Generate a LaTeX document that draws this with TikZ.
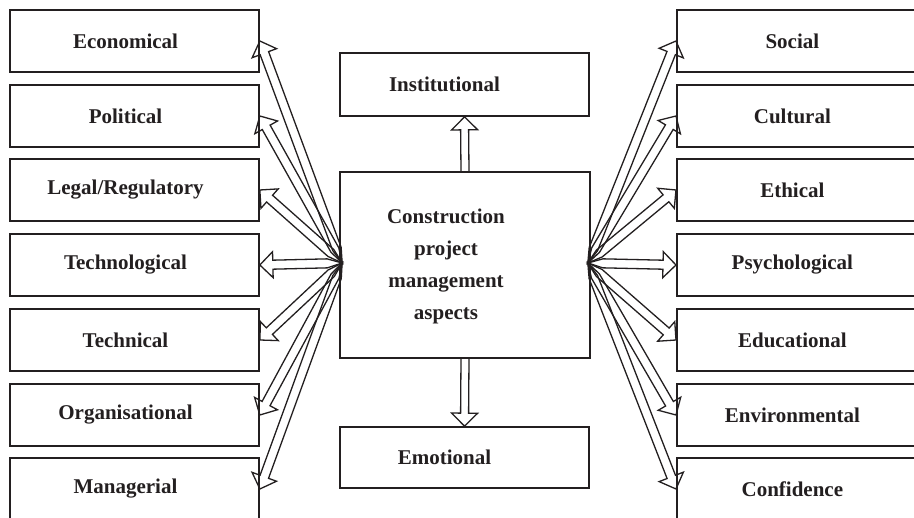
\documentclass[tikz,border=0pt]{standalone}
\usepackage{fontspec}
\setmainfont{Liberation Serif}
\usetikzlibrary{calc}
\definecolor{ink}{HTML}{231F20}
% hollow arrow with a pointed tail: #1 tail point, #2 tip
\newcommand\hollowarrow[2]{%
  \coordinate (ha1) at ($(#1)!15pt!(#2)$);
  \coordinate (ha2) at ($(#2)!13pt!(#1)$);
  \draw[arrowline] (#1) -- ($(ha1)!4.5pt!90:(#2)$) -- ($(ha2)!4.5pt!-90:(#1)$)
    -- ($(ha2)!13pt!-90:(#1)$) -- (#2) -- ($(ha2)!13pt!90:(#1)$)
    -- ($(ha2)!4.5pt!90:(#1)$) -- ($(ha1)!4.5pt!-90:(#2)$) -- cycle;
}
% hollow arrow with an open tail on a box edge
\newcommand\openarrow[2]{%
  \coordinate (ha2) at ($(#2)!13pt!(#1)$);
  \draw[arrowline] ($(#1)!4pt!-90:(#2)$) -- ($(ha2)!4pt!90:(#1)$)
    -- ($(ha2)!13pt!90:(#1)$) -- (#2) -- ($(ha2)!13pt!-90:(#1)$)
    -- ($(ha2)!4pt!-90:(#1)$) -- ($(#1)!4pt!90:(#2)$);
}
\tikzset{
  box/.style={draw=ink, line width=1.7pt, minimum width=249pt, minimum height=62pt,
    inner sep=0pt, text=ink, font=\fontsize{21}{32}\selectfont\bfseries,
    execute at end node={\hspace{18pt}}},
  lbox/.style={box},
  rbox/.style={box, anchor=west},
  arrowline/.style={draw=ink, line width=1.3pt, line join=miter},
}
\begin{document}
\begin{tikzpicture}[x=1pt, y=-1pt]
\clip (0,0) rectangle (914,518);
\fill[white] (0,0) rectangle (914,518);
% left column
\node[lbox] (eco)  at (134.5,41)  {Economical};
\node[lbox] (pol)  at (134.5,116) {Political};
\node[lbox] (leg)  at (134.5,190) {Legal/Regulatory};
\node[lbox] (tgy)  at (134.5,265) {Technological};
\node[lbox] (tec)  at (134.5,340) {Technical};
\node[lbox] (org)  at (134.5,415) {Organisational};
\node[lbox] (man)  at (134.5,489) {Managerial};
% right column
\node[rbox] (soc)  at (676,41)  {Social};
\node[rbox] (cul)  at (676,116) {Cultural};
\node[rbox] (eth)  at (676,190) {Ethical};
\node[rbox] (psy)  at (676,265) {Psychological};
\node[rbox] (edu)  at (676,340) {Educational};
\node[rbox] (env)  at (676,415) {Environmental};
\node[rbox] (con)  at (676,489) {Confidence};
% centre
\node[box, minimum width=250pt, minimum height=186pt, execute at end node={\hspace{20pt}}]
  (c) at (465,265) {\begin{tabular}{@{}c@{}}Construction\\project\\management\\aspects\end{tabular}};
\node[box, minimum height=63pt, execute at end node={\hspace{22pt}}] (ins) at (464.5,84.5) {Institutional};
\node[box, minimum height=61pt, execute at end node={\hspace{22pt}}] (emo) at (464.5,457.5) {Emotional};
% convergence points
\coordinate (lp) at ($(c.west)+(3,-2)$);
\coordinate (rp) at ($(c.east)+(-3,-2)$);
% arrows
\foreach \b in {eco,pol,leg,tgy,tec,org,man} {\hollowarrow{lp}{\b.east}}
\foreach \b in {soc,cul,eth,psy,edu,env,con} {\hollowarrow{rp}{\b.west}}
\openarrow{c.north}{ins.south}
\openarrow{c.south}{emo.north}
\end{tikzpicture}
\end{document}
